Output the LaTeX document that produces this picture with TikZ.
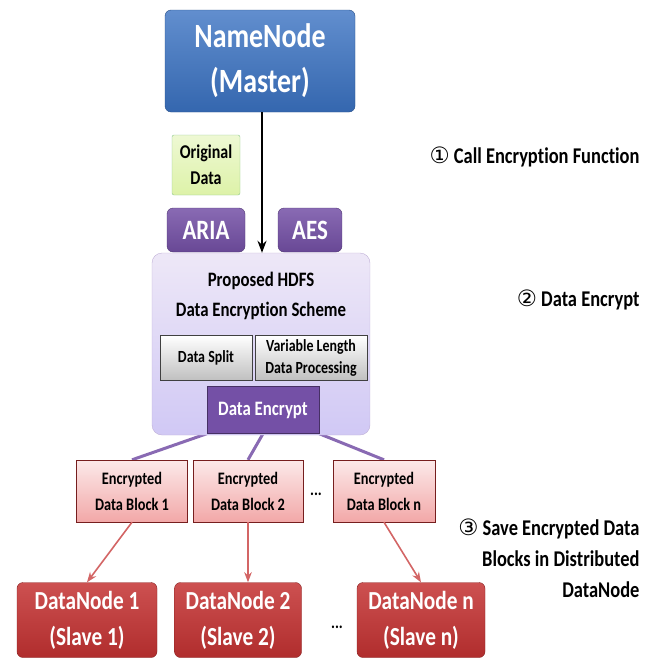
\documentclass[tikz,border=0pt]{standalone}
\usepackage{fontspec}
\setmainfont{Carlito}[FakeStretch=0.82, Ligatures=NoCommon]
\newfontfamily\circfont{DejaVu Sans}
\usepackage{xcolor}
\usetikzlibrary{arrows.meta,positioning,calc,backgrounds}

\definecolor{masterblue}{HTML}{3A72C2}
\definecolor{algopurple}{HTML}{7450A6}
\definecolor{schemelav}{HTML}{E2D8F2}
\definecolor{blockpink}{HTML}{F2A8A8}
\definecolor{slavered}{HTML}{C43232}
\definecolor{origgreen}{HTML}{DDF2A8}

\begin{document}
\begin{tikzpicture}[x=1pt, y=-1pt,
  box/.style={rectangle, rounded corners=6pt, align=center, inner sep=0pt,
              font=\bfseries},
  master/.style={box, top color=masterblue!80!white, bottom color=masterblue!90!black,
                 draw=masterblue!70!black, text=white, minimum width=190pt,
                 minimum height=102pt, font=\bfseries\fontsize{34}{45}\selectfont},
  orig/.style={box, rounded corners=2pt, top color=origgreen!50!white, bottom color=origgreen,
               draw=green!50!black!45, minimum width=68pt, minimum height=60pt,
               font=\bfseries\fontsize{19.5}{26}\selectfont},
  algo/.style={box, top color=algopurple!85!white, bottom color=algopurple!90!black,
               draw=algopurple!70!black, text=white, minimum height=44pt,
               font=\bfseries\fontsize{28}{30}\selectfont},
  scheme/.style={box, rounded corners=10pt, top color=schemelav!60!white, bottom color=schemelav!90!blue!90,
                 draw=algopurple!45, minimum width=218pt, minimum height=182pt},
  title/.style={align=center, font=\bfseries\fontsize{20.5}{30}\selectfont},
  sub/.style={box, rounded corners=0pt, top color=white, bottom color=black!25,
              draw=black!75, minimum height=45pt, font=\bfseries\fontsize{17}{22}\selectfont},
  enc/.style={box, rounded corners=0pt, fill=algopurple, draw=algopurple!60!black,
              text=white, minimum width=112pt, minimum height=47pt,
              font=\bfseries\fontsize{20.5}{22}\selectfont},
  block/.style={box, rounded corners=0pt, top color=blockpink!25!white, bottom color=blockpink,
                draw=slavered!60!black, minimum height=62pt,
                font=\bfseries\fontsize{17.5}{26}\selectfont},
  slave/.style={box, top color=slavered!85!white, bottom color=slavered!90!black,
                draw=slavered!70!black, text=white, minimum height=75pt,
                font=\bfseries\fontsize{26}{36}\selectfont},
  dots/.style={font=\bfseries\fontsize{18}{20}\selectfont},
  steptext/.style={anchor=east, align=right, font=\bfseries\fontsize{22.5}{31}\selectfont},
  arr/.style={->, >=Stealth, line width=2pt},
  link/.style={line width=3pt, algopurple!85},
  save/.style={->, >=Stealth, line width=1.6pt, slavered!75}
]
\useasboundingbox (0,0) rectangle (660,664);

\node[master]  (nn)   at (260,61)  {NameNode\\(Master)};
\node[orig]    (orig) at (206,165) {Original\\Data};
\node[algo, minimum width=78pt] (aria) at (206,230) {ARIA};
\node[algo, minimum width=64pt] (aes)  at (310,230) {AES};

\node[scheme]  (hdfs) at (261,344) {};
\node[title]   (ttl)  at (261,296) {Proposed HDFS\\Data Encryption Scheme};
\node[sub, minimum width=92pt]  (split)  at (206,358) {Data Split};
\node[sub, minimum width=112pt] (varlen) at (311,358) {Variable Length\\Data Processing};
\node[enc]     (de)   at (263,410) {Data Encrypt};

\node[block, minimum width=111pt] (blk1) at (132,491) {Encrypted\\Data Block 1};
\node[block, minimum width=110pt] (blk2) at (248,491) {Encrypted\\Data Block 2};
\node[block, minimum width=102pt] (blkn) at (384,491) {Encrypted\\Data Block n};
\node[dots] (dotsb) at (316,494) {...};

\node[slave, minimum width=140pt] (dn1) at (87,620)  {DataNode 1\\(Slave 1)};
\node[slave, minimum width=127pt] (dn2) at (238,620) {DataNode 2\\(Slave 2)};
\node[slave, minimum width=128pt] (dnn) at (421,620) {DataNode n\\(Slave n)};
\node[dots] (dotsd) at (337,627) {...};

\draw[arr] (nn.south -| 262,0) -- (262,0 |- hdfs.north);

\begin{scope}[on background layer]
\draw[link] (de.south west) -- (blk1.north);
\draw[link] (de.south) -- (blk2.north);
\draw[link] (de.south east) -- (blkn.north);
\end{scope}

\draw[save] (blk1.south) -- (dn1.north);
\draw[save] (blk2.south) -- (blk2.south |- dn2.north);
\draw[save] (blkn.south) -- (dnn.north);

\node[steptext] (s1) at (643,157) {{\circfont\mdseries ①} Call Encryption Function};
\node[steptext] (s2) at (643,300) {{\circfont\mdseries ②} Data Encrypt};
\node[steptext] (s3) at (643,558) {{\circfont\mdseries ③} Save Encrypted Data\\Blocks in Distributed\\DataNode};
\end{tikzpicture}
\end{document}
